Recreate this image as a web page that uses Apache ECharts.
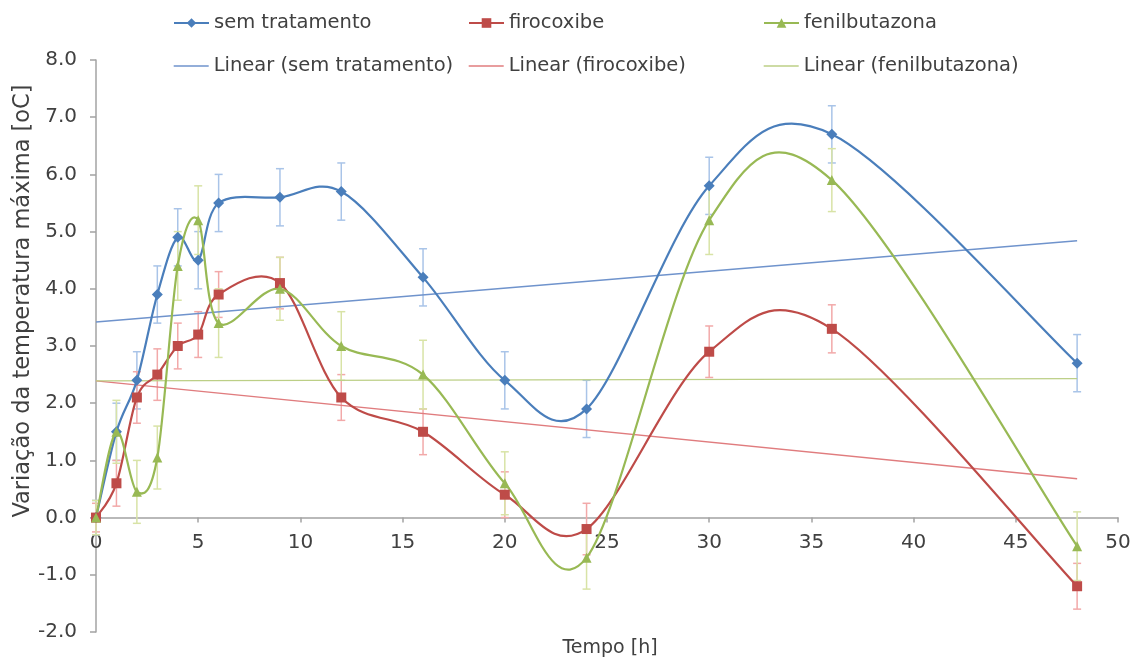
<!DOCTYPE html>
<html>
<head>
<meta charset="utf-8">
<script src="https://cdn.jsdelivr.net/npm/echarts@6/dist/echarts.min.js"></script>
<style>
html,body{margin:0;padding:0;background:#fff;}
#chart{width:1141px;height:661px;}
</style>
</head>
<body>
<div id="chart"></div>
<script>
// ---- data ----
const hours = [0, 1, 2, 3, 4, 5, 6, 9, 12, 16, 20, 24, 30, 36, 48];
const semTratamento = [0, 1.5, 2.4, 3.9, 4.9, 4.5, 5.5, 5.6, 5.7, 4.2, 2.4, 1.9, 5.8, 6.7, 2.7];
const firocoxibe    = [0, 0.6, 2.1, 2.5, 3.0, 3.2, 3.9, 4.1, 2.1, 1.5, 0.4, -0.2, 2.9, 3.3, -1.2];
const fenilbutazona = [0, 1.5, 0.45, 1.05, 4.4, 5.2, 3.4, 4.0, 3.0, 2.5, 0.6, -0.7, 5.2, 5.9, -0.5];
const semErr  = [0.3, 0.5, 0.5, 0.5, 0.5, 0.5, 0.5, 0.5, 0.5, 0.5, 0.5, 0.5, 0.5, 0.5, 0.5];
const firoErr = [0.25, 0.4, 0.45, 0.45, 0.4, 0.4, 0.4, 0.45, 0.4, 0.4, 0.4, 0.45, 0.45, 0.42, 0.4];
const feniErr = [0.3, 0.55, 0.55, 0.55, 0.6, 0.6, 0.6, 0.55, 0.6, 0.6, 0.55, 0.55, 0.6, 0.55, 0.6];
const trendHours = [0, 48];
const trendSem  = [3.42, 4.84];
const trendFiro = [2.39, 0.68];
const trendFeni = [2.39, 2.43];
const seriesNames = ['sem tratamento', 'firocoxibe', 'fenilbutazona'];
const trendNames = ['Linear (sem tratamento)', 'Linear (firocoxibe)', 'Linear (fenilbutazona)'];
const xTitle = 'Tempo [h]';
const yTitle = 'Variação da temperatura máxima [oC]';

// ---- styling ----
const FONT = 'DejaVu Sans';
const TXT = '#404040';
const mainColors = ['#4a7ebb', '#be4b48', '#98b954'];
const trendColors = ['#6f93cc', '#e07c7e', '#bccf86'];
const errColors = ['#a9c4e8', '#f2a9a9', '#d8e3a6'];
const symbols = ['diamond', 'rect', 'triangle'];
const symbolSizes = [11, 10, 10];
const values = [semTratamento, firocoxibe, fenilbutazona];
const errs = [semErr, firoErr, feniErr];
const trends = [trendSem, trendFiro, trendFeni];

const GRID_TOP = 60, GRID_BOTTOM = 29, CH = 661;
const Y_MIN = -2, Y_MAX = 8;
const plotH = CH - GRID_TOP - GRID_BOTTOM;
const zeroOffset = -plotH * (0 - Y_MIN) / (Y_MAX - Y_MIN);

function pairs(xsArr, ysArr) { return xsArr.map((x, i) => [x, ysArr[i]]); }

// Smooth (Excel-like cardinal bezier) curve drawn through the axis scales
function curveRenderer(k) {
  return function (params, api) {
    if (params.dataIndex !== 0) return null;
    const ys = values[k];
    const P = hours.map((x, i) => api.coord([x, ys[i]]));
    const n = P.length;
    let d = 'M' + P[0][0] + ' ' + P[0][1];
    for (let i = 0; i < n - 1; i++) {
      const p0 = P[Math.max(i - 1, 0)], p1 = P[i], p2 = P[i + 1], p3 = P[Math.min(i + 2, n - 1)];
      const c1x = p1[0] + (p2[0] - p0[0]) / 6, c1y = p1[1] + (p2[1] - p0[1]) / 6;
      const c2x = p2[0] - (p3[0] - p1[0]) / 6, c2y = p2[1] - (p3[1] - p1[1]) / 6;
      d += ' C' + c1x + ' ' + c1y + ' ' + c2x + ' ' + c2y + ' ' + p2[0] + ' ' + p2[1];
    }
    return {
      type: 'path',
      shape: { pathData: d },
      style: { fill: 'none', stroke: mainColors[k], lineWidth: 2.2 },
      silent: true
    };
  };
}

function errRenderer(k) {
  return function (params, api) {
    const x = api.value(0), y = api.value(1), e = api.value(2);
    const top = api.coord([x, y + e]);
    const bot = api.coord([x, y - e]);
    const cap = 4;
    const st = { stroke: errColors[k], lineWidth: 1.5 };
    return {
      type: 'group',
      children: [
        { type: 'line', shape: { x1: top[0], y1: top[1], x2: bot[0], y2: bot[1] }, style: st },
        { type: 'line', shape: { x1: top[0] - cap, y1: top[1], x2: top[0] + cap, y2: top[1] }, style: st },
        { type: 'line', shape: { x1: bot[0] - cap, y1: bot[1], x2: bot[0] + cap, y2: bot[1] }, style: st }
      ]
    };
  };
}

const series = [];
for (let k = 0; k < 3; k++) {
  series.push({
    name: seriesNames[k], type: 'line', data: pairs(hours, values[k]),
    symbol: symbols[k], symbolSize: symbolSizes[k], showSymbol: true,
    itemStyle: { color: mainColors[k] },
    lineStyle: { color: mainColors[k], width: 2, opacity: 0 },
    z: 6, emphasis: { disabled: true }, animation: false
  });
}
for (let k = 0; k < 3; k++) {
  series.push({
    name: seriesNames[k], type: 'custom',
    data: hours.map((x, i) => [x, values[k][i], errs[k][i]]),
    encode: { x: 0, y: 1 },
    renderItem: errRenderer(k), z: 2, animation: false, silent: true
  });
  series.push({
    name: seriesNames[k], type: 'custom',
    data: pairs(hours, values[k]), encode: { x: 0, y: 1 },
    renderItem: curveRenderer(k), z: 4, animation: false, silent: true
  });
}
for (let k = 0; k < 3; k++) {
  series.push({
    name: trendNames[k], type: 'line', data: pairs(trendHours, trends[k]),
    symbol: 'none', itemStyle: { color: trendColors[k] },
    lineStyle: { color: trendColors[k], width: 1.4 },
    z: 3, emphasis: { disabled: true }, animation: false, silent: true
  });
}

const legendPos = [
  { left: 168, top: 8 }, { left: 463, top: 8 }, { left: 758, top: 8 },
  { left: 168, top: 51 }, { left: 463, top: 51 }, { left: 758, top: 51 }
];
const allNames = seriesNames.concat(trendNames);
const legends = allNames.map((nm, i) => {
  const lg = {
    data: [nm], left: legendPos[i].left, top: legendPos[i].top,
    itemWidth: 35, itemHeight: 12, itemGap: 0, selectedMode: false,
    textStyle: { fontFamily: FONT, fontSize: 19.5, color: TXT },
    lineStyle: { opacity: 1, width: i < 3 ? 2 : 1.4 }
  };
  if (i >= 3) lg.itemStyle = { opacity: 0 };
  return lg;
});

const option = {
  backgroundColor: '#ffffff',
  animation: false,
  legend: legends,
  grid: { left: 96, right: 23, top: GRID_TOP, bottom: GRID_BOTTOM, containLabel: false },
  xAxis: {
    type: 'value', min: 0, max: 50, interval: 5,
    position: 'bottom', offset: zeroOffset,
    axisLine: { show: true, onZero: false, lineStyle: { color: '#a3a3a3', width: 1.5 } },
    axisTick: { show: true, length: 5, lineStyle: { color: '#a3a3a3', width: 1.5 } },
    axisLabel: { fontFamily: FONT, fontSize: 20, color: TXT, margin: 15 },
    splitLine: { show: false }
  },
  yAxis: {
    type: 'value', min: Y_MIN, max: Y_MAX, interval: 1,
    axisLine: { show: true, onZero: false, lineStyle: { color: '#a3a3a3', width: 1.5 } },
    axisTick: { show: true, length: 6, lineStyle: { color: '#a3a3a3', width: 1.5 } },
    axisLabel: { fontFamily: FONT, fontSize: 20, color: TXT, margin: 19, formatter: v => v.toFixed(1) },
    splitLine: { show: false }
  },
  graphic: [
    { type: 'text', x: 610, y: 648, z: 10,
      style: { text: xTitle, fontFamily: FONT, fontSize: 19, fill: TXT, align: 'center', verticalAlign: 'middle' } },
    { type: 'text', x: 23, y: 301, rotation: Math.PI / 2, z: 10,
      style: { text: yTitle, fontFamily: FONT, fontSize: 22.5, fill: TXT, align: 'center', verticalAlign: 'middle' } }
  ],
  series: series
};

const chart = echarts.init(document.getElementById('chart'), null, { renderer: 'canvas' });
chart.setOption(option);
</script>
</body>
</html>
